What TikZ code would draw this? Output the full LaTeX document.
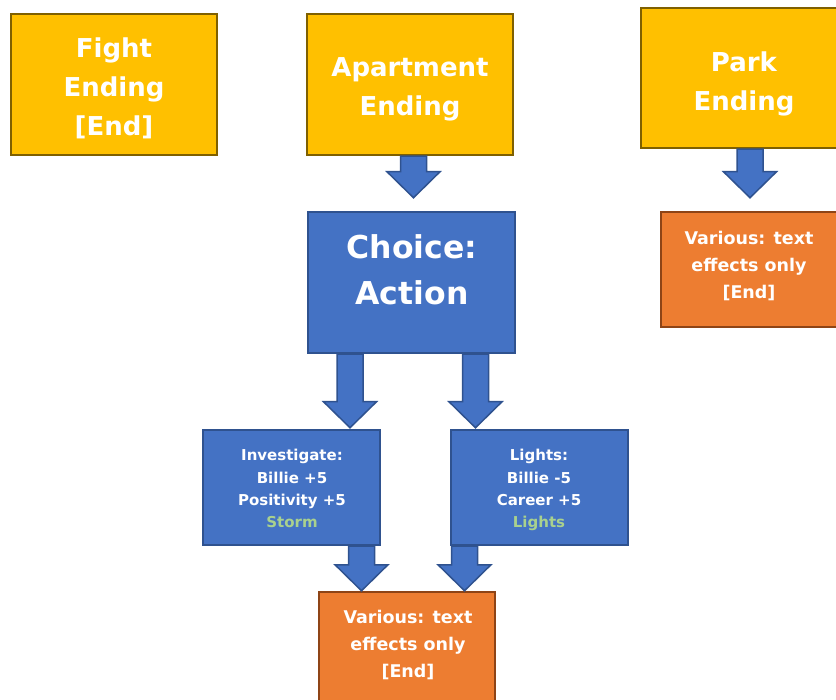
\documentclass[tikz,border=0pt]{standalone}
\usepackage{fontspec}
\setmainfont{DejaVu Sans}
\usetikzlibrary{calc}

\definecolor{gold}{HTML}{FFC000}
\definecolor{goldline}{HTML}{7F6000}
\definecolor{steel}{HTML}{4472C4}
\definecolor{steelline}{HTML}{2F528F}
\definecolor{amber}{HTML}{ED7D31}
\definecolor{amberline}{HTML}{8E4416}
\definecolor{sage}{HTML}{A9D18E}

% Block arrow pointing down from the bottom of #1 towards the top of #2;
% #3 = x of the shaft centre, #4 = gap left between tip and target.
\newcommand\blockarrow[4]{%
  \draw[barrow] let \p1=(#1.south), \p2=(#2.north) in
    ({#3*1pt-13pt},\y1) -- ({#3*1pt+13pt},\y1)
    -- ({#3*1pt+13pt},{\y2+#4pt+26pt}) -- ({#3*1pt+26.5pt},{\y2+#4pt+26pt})
    -- ({#3*1pt},{\y2+#4pt})
    -- ({#3*1pt-26.5pt},{\y2+#4pt+26pt}) -- ({#3*1pt-13pt},{\y2+#4pt+26pt})
    -- cycle;}

\begin{document}
\begin{tikzpicture}[x=1pt,y=-1pt,
  box/.style={draw, line width=2.5pt, inner sep=0pt},
  endingbox/.style={box, fill=gold, draw=goldline, minimum width=206pt, minimum height=141pt},
  choicebox/.style={box, fill=steel, draw=steelline},
  resultbox/.style={box, fill=amber, draw=amberline, minimum width=177pt},
  txt/.style={text=white, font=\bfseries, align=center, inner sep=0pt, text depth=0pt},
  bigtxt/.style={txt, font=\bfseries\fontsize{26}{39}\selectfont},
  hugetxt/.style={txt, font=\bfseries\fontsize{31.5}{46}\selectfont},
  smalltxt/.style={txt, font=\bfseries\fontsize{15}{22.3}\selectfont},
  midtxt/.style={txt, font=\bfseries\fontsize{17.5}{27}\selectfont},
  barrow/.style={fill=steel, draw=steelline, line width=1.5pt, line join=miter},
]
\useasboundingbox (0,0) rectangle (836,700);
\clip (0,0) rectangle (836,700);

% boxes
\node[endingbox] (fight) at (114,84.5) {};
\node[endingbox] (apt) at (410,84.5) {};
\node[endingbox, minimum height=140pt] (park) at (744,78) {};
\node[choicebox, minimum width=207pt, minimum height=141pt] (choice) at (411.5,282.5) {};
\node[resultbox, minimum height=115pt] (parkend) at (749.5,269.5) {};
\node[choicebox, minimum width=177pt, minimum height=115pt] (invest) at (291.5,487.5) {};
\node[choicebox, minimum width=177pt, minimum height=115pt] (lights) at (539.5,487.5) {};
\node[resultbox, minimum width=176pt, minimum height=112pt] (various) at (407,648) {};

% arrows
\blockarrow{apt}{choice}{413.5}{13}
\blockarrow{park}{parkend}{750}{13}
\blockarrow{choice}{invest}{350}{1}
\blockarrow{choice}{lights}{475.5}{1}
\blockarrow{invest}{various}{361.5}{0}
\blockarrow{lights}{various}{464.5}{0}

% box texts
\node[bigtxt] (fight-t) at (114,87) {Fight\\Ending\\{[End]}};
\node[bigtxt] (apt-t) at (410,86.5) {Apartment\\Ending};
\node[bigtxt] (park-t) at (744,81) {Park\\Ending};
\node[hugetxt] (choice-t) at (412,270) {Choice:\\Action};
\node[midtxt] (parkend-t) at (749,264.5) {Various: text\\effects only\\{[End]}};
\node[smalltxt] (invest-t) at (292,488.5) {Investigate:\\Billie +5\\Positivity +5\\\textcolor{sage}{Storm}};
\node[smalltxt] (lights-t) at (539,488.5) {Lights:\\Billie -5\\Career +5\\\textcolor{sage}{Lights}};
\node[midtxt] (various-t) at (408,644) {Various: text\\effects only\\{[End]}};
\end{tikzpicture}
\end{document}
